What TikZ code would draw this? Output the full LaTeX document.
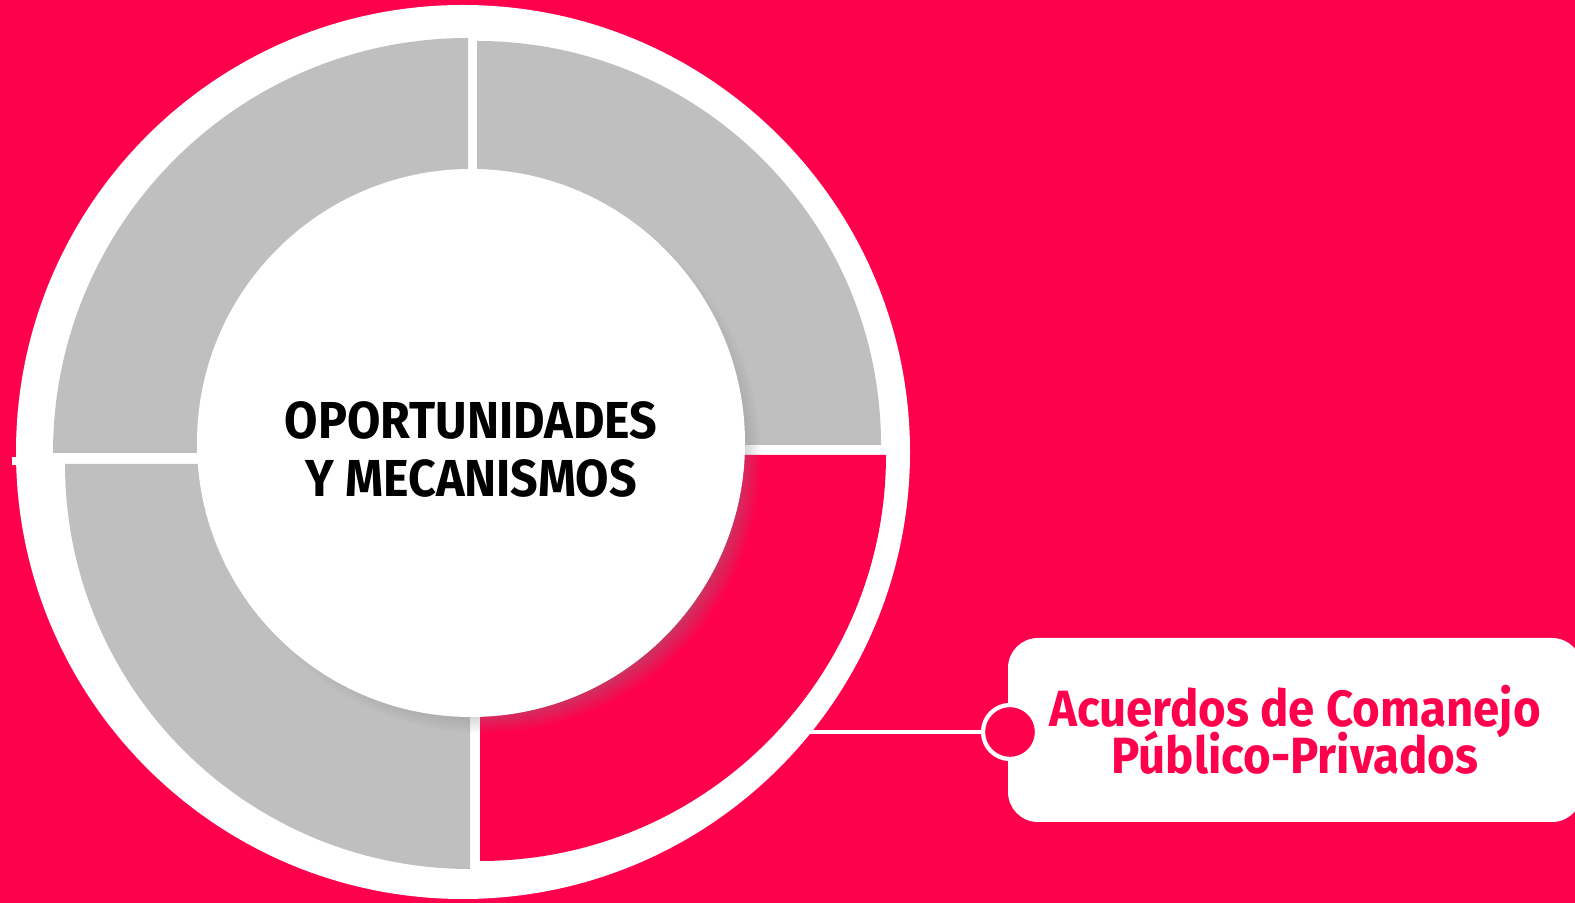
\documentclass[tikz,border=0pt]{standalone}
\usepackage{fontspec}
\setmainfont[FakeStretch=0.93]{Fira Sans}
\usetikzlibrary{shadows}
\definecolor{redback}{HTML}{FF004C}
\definecolor{greyseg}{HTML}{BFBFBF}
\lineskiplimit=-20pt
\begin{document}
\begin{tikzpicture}[x=0.1mm,y=0.1mm]
  \tikzstyle{segment}=[fill=greyseg]
  \tikzstyle{hub}=[circle,fill=white,minimum size=54.8mm,inner sep=0pt,
    circular drop shadow={shadow xshift=1.3mm,shadow yshift=-1.3mm,shadow scale=1.01,opacity=0.75}]
  \tikzstyle{hubtext}=[align=center,yshift=-0.6mm,
    font=\fontsize{14.8}{16.5}\selectfont\bfseries]
  \tikzstyle{callout}=[rectangle,rounded corners=3mm,fill=white,minimum width=57.4mm,
    minimum height=18.4mm,align=center,text=redback,
    font=\fontsize{14.5}{13.4}\selectfont\bfseries]
  \tikzstyle{dot}=[circle,fill=redback,draw=white,line width=1.2pt,minimum size=5.4mm,inner sep=0pt]
  \fill[redback] (0,0) rectangle (1575,903);
  \useasboundingbox (0,0) rectangle (1575,903);
  % outer ring
  \fill[white] (463,451) circle (447);
  \fill[white] (12,438) rectangle (22,446);
  % quadrants
  \fill[segment] (468,450) -- ++(180:415) arc (180:90:415) -- cycle;
  \fill[segment] (477,458) -- ++(0:404) arc (0:90:404) -- cycle;
  \fill[redback] (480,448) -- ++(270:406) arc (270:360:406) -- cycle;
  \fill[segment] (470,439) -- ++(180:405) arc (180:270:405) -- cycle;
  % centre
  \node[hub,label={[hubtext]center:{OPORTUNIDADES\\Y MECANISMOS}}] (hub) at (471,460) {};
  % callout
  \node[callout] (acuerdos) at (1295,173) {Acuerdos de Comanejo\\Público-Privados};
  \coordinate (ringedge) at (800,171);
  \node[dot] (pin) at (1010,171) {};
  \draw[white,line width=1.4pt] (ringedge) -- (pin);
\end{tikzpicture}
\end{document}
